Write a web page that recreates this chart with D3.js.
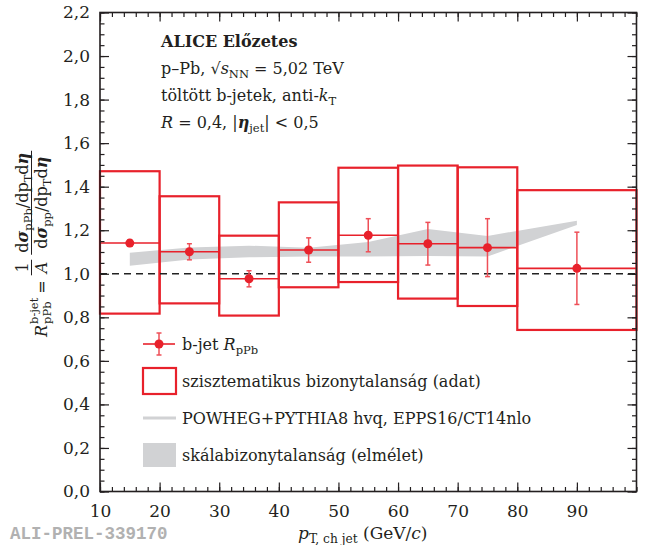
<!DOCTYPE html>
<html>
<head>
<meta charset="utf-8">
<script src="https://cdn.jsdelivr.net/npm/d3@7"></script>
<style>
  body { margin: 0; background: #fff; }
  text { font-family: "DejaVu Serif", serif; fill: #231f20; }
</style>
</head>
<body>
<div id="chart"></div>
<script>
// data
var binLo = [10, 20, 30, 40, 50, 60, 70, 80];
var binHi = [20, 30, 40, 50, 60, 70, 80, 100];
var ptX = [15, 25, 35, 45, 55, 65, 75, 90];
var rpPb = [1.141, 1.101, 0.977, 1.109, 1.177, 1.138, 1.120, 1.025];
var statErr = [0.015, 0.037, 0.037, 0.056, 0.076, 0.098, 0.133, 0.166];
var sysHi = [1.471, 1.356, 1.175, 1.328, 1.487, 1.497, 1.489, 1.384];
var sysLo = [0.817, 0.864, 0.808, 0.938, 0.962, 0.886, 0.852, 0.742];

// POWHEG scale band
var bandX = [15, 25, 35, 45, 55, 65, 75, 90];
var bandHi = [1.097, 1.121, 1.129, 1.119, 1.146, 1.206, 1.174, 1.243];
var bandLo = [1.037, 1.066, 1.076, 1.079, 1.079, 1.082, 1.079, 1.224];

var xTicks = [10, 20, 30, 40, 50, 60, 70, 80, 90];
var yTicks = [0, 0.2, 0.4, 0.6, 0.8, 1.0, 1.2, 1.4, 1.6, 1.8, 2.0, 2.2];

var red = "#e8212b", red2 = "#ee4f57", grey = "#d1d2d4";

var W = 653, H = 545;
var margin = {top: 12.5, right: 16.5, bottom: 53.5, left: 100};
var width = W - margin.left - margin.right,
    height = H - margin.top - margin.bottom;

var svg = d3.select("#chart").append("svg")
    .attr("width", W).attr("height", H);

var g = svg.append("g")
    .attr("transform", `translate(${margin.left}, ${margin.top})`);

var x = d3.scaleLinear().domain([10, 100]).range([0, width]);
var y = d3.scaleLinear().domain([0, 2.2]).range([height, 0]);

var comma = d => d3.format(".1f")(d).replace(".", ",");

// theory band
var area = d3.area()
    .x((d, i) => x(bandX[i]))
    .y0((d, i) => y(bandLo[i]))
    .y1((d, i) => y(bandHi[i]));
g.append("path")
    .datum(bandX)
    .attr("d", area)
    .attr("fill", grey);

// systematic boxes
g.selectAll(".sys")
    .data(ptX)
    .enter().append("rect")
    .attr("class", "sys")
    .attr("x", (d, i) => x(binLo[i]))
    .attr("width", (d, i) => x(binHi[i]) - x(binLo[i]))
    .attr("y", (d, i) => y(sysHi[i]))
    .attr("height", (d, i) => y(sysLo[i]) - y(sysHi[i]))
    .attr("fill", "none")
    .attr("stroke", red)
    .attr("stroke-width", 2.2);

// unity line
g.append("line")
    .attr("x1", x(10)).attr("x2", x(100))
    .attr("y1", y(1)).attr("y2", y(1))
    .attr("stroke", "#222")
    .attr("stroke-width", 1.5)
    .attr("stroke-dasharray", "7,5");

// bin-width lines
g.selectAll(".xerr")
    .data(ptX)
    .enter().append("line")
    .attr("x1", (d, i) => x(binLo[i]))
    .attr("x2", (d, i) => x(binHi[i]))
    .attr("y1", (d, i) => y(rpPb[i]))
    .attr("y2", (d, i) => y(rpPb[i]))
    .attr("stroke", red)
    .attr("stroke-width", 1.6);

// stat errors
var eb = g.selectAll(".stat").data(ptX).enter().append("g");
eb.append("line")
    .attr("x1", d => x(d)).attr("x2", d => x(d))
    .attr("y1", (d, i) => y(rpPb[i] + statErr[i]))
    .attr("y2", (d, i) => y(rpPb[i] - statErr[i]))
    .attr("stroke", red2).attr("stroke-width", 1.5);
[1, -1].forEach(s => {
    eb.append("line")
        .attr("x1", d => x(d) - 2.5).attr("x2", d => x(d) + 2.5)
        .attr("y1", (d, i) => y(rpPb[i] + s * statErr[i]))
        .attr("y2", (d, i) => y(rpPb[i] + s * statErr[i]))
        .attr("stroke", red2).attr("stroke-width", 1.5);
});

g.selectAll(".pt")
    .data(ptX)
    .enter().append("circle")
    .attr("cx", d => x(d))
    .attr("cy", (d, i) => y(rpPb[i]))
    .attr("r", 4.5)
    .attr("fill", red);

// axes, ticks inward on all four sides
function minors(lo, hi, step) {
    return d3.range(Math.round((hi - lo) / step) + 1).map(k => lo + k * step);
}
var xMinor = minors(10, 100, 2), yMinor = minors(0, 2.2, 0.05);

g.append("g").attr("transform", `translate(0, ${height})`)
    .call(d3.axisBottom(x).tickValues(xTicks).tickSize(-9).tickSizeOuter(0)
        .tickPadding(13).tickFormat(d3.format("d")));
g.append("g").attr("transform", `translate(0, ${height})`)
    .call(d3.axisBottom(x).tickValues(xMinor).tickSize(-4.5).tickSizeOuter(0).tickFormat(""));
g.append("g")
    .call(d3.axisTop(x).tickValues(xTicks).tickSize(-9).tickSizeOuter(0).tickFormat(""));
g.append("g")
    .call(d3.axisTop(x).tickValues(xMinor).tickSize(-4.5).tickSizeOuter(0).tickFormat(""));

g.append("g")
    .call(d3.axisLeft(y).tickValues(yTicks).tickSize(-9).tickSizeOuter(0)
        .tickPadding(10).tickFormat(comma));
g.append("g")
    .call(d3.axisLeft(y).tickValues(yMinor).tickSize(-4.5).tickSizeOuter(0).tickFormat(""));
g.append("g").attr("transform", `translate(${width}, 0)`)
    .call(d3.axisRight(y).tickValues(yTicks).tickSize(-9).tickSizeOuter(0).tickFormat(""));
g.append("g").attr("transform", `translate(${width}, 0)`)
    .call(d3.axisRight(y).tickValues(yMinor).tickSize(-4.5).tickSizeOuter(0).tickFormat(""));

g.selectAll(".domain").remove();
g.selectAll(".tick line").attr("stroke", "#231f20").attr("stroke-width", 1.2);
g.selectAll(".tick text")
    .attr("font-size", 17).attr("fill", "#231f20");

g.append("rect")
    .attr("width", width).attr("height", height)
    .attr("fill", "none").attr("stroke", "#231f20").attr("stroke-width", 1.6);

// rich text helper
function rich(sel, parts) {
    var shift = 0;
    parts.forEach(p => {
        var ts = sel.append("tspan").text(p.t);
        var target = p.sub ? 4 : p.sup ? -7 : 0;
        ts.attr("dy", target - shift);
        shift = target;
        if (p.sub || p.sup) ts.attr("font-size", "0.72em");
        if (p.it) ts.attr("font-style", "italic");
        if (p.b) ts.attr("font-weight", "bold");
    });
    return sel;
}

// info block
var info = svg.append("g").attr("font-size", 16);
info.append("text").attr("x", 161).attr("y", 47)
    .attr("font-weight", "bold").text("ALICE Előzetes");
rich(info.append("text").attr("x", 161).attr("y", 74), [
    {t: "p–Pb, √"}, {t: "s", it: 1}, {t: "NN", sub: 1}, {t: " = 5,02 TeV"}]);
rich(info.append("text").attr("x", 161).attr("y", 101), [
    {t: "töltött b-jetek, anti-"}, {t: "k", it: 1}, {t: "T", sub: 1}]);
rich(info.append("text").attr("x", 161).attr("y", 128), [
    {t: "R", it: 1}, {t: " = 0,4, |"}, {t: "η", it: 1, b: 1}, {t: "jet", sub: 1}, {t: "| < 0,5"}]);

// legend
var lg = svg.append("g").attr("font-size", 16);
var rows = [344, 381, 418, 455];
lg.append("line").attr("x1", 143).attr("x2", 175).attr("y1", rows[0]).attr("y2", rows[0])
    .attr("stroke", red).attr("stroke-width", 1.6);
lg.append("line").attr("x1", 159).attr("x2", 159).attr("y1", rows[0] - 11).attr("y2", rows[0] + 11)
    .attr("stroke", red2).attr("stroke-width", 1.5);
[-11, 11].forEach(o => lg.append("line").attr("x1", 156.5).attr("x2", 161.5)
    .attr("y1", rows[0] + o).attr("y2", rows[0] + o).attr("stroke", red2).attr("stroke-width", 1.5));
lg.append("circle").attr("cx", 159).attr("cy", rows[0]).attr("r", 4.5).attr("fill", red);
lg.append("rect").attr("x", 143).attr("y", rows[1] - 13).attr("width", 33).attr("height", 26)
    .attr("fill", "none").attr("stroke", red).attr("stroke-width", 2.2);
lg.append("line").attr("x1", 143).attr("x2", 176).attr("y1", rows[2]).attr("y2", rows[2])
    .attr("stroke", grey).attr("stroke-width", 3);
lg.append("rect").attr("x", 143).attr("y", rows[3] - 12).attr("width", 33).attr("height", 24)
    .attr("fill", grey);

rich(lg.append("text").attr("x", 182).attr("y", rows[0] + 6), [
    {t: "b-jet "}, {t: "R", it: 1}, {t: "pPb", sub: 1}]);
lg.append("text").attr("x", 182).attr("y", rows[1] + 6).text("szisztematikus bizonytalanság (adat)");
lg.append("text").attr("x", 182).attr("y", rows[2] + 6).text("POWHEG+PYTHIA8 hvq, EPPS16/CT14nlo");
lg.append("text").attr("x", 182).attr("y", rows[3] + 6).text("skálabizonytalanság (elmélet)");

// x title
rich(svg.append("text").attr("x", 298).attr("y", 539).attr("font-size", 17), [
    {t: "p", it: 1}, {t: "T, ch jet", sub: 1}, {t: " (GeV/"}, {t: "c", it: 1}, {t: ")"}]);

svg.append("text").attr("x", 10).attr("y", 539)
    .style("font-family", "'Liberation Mono', 'DejaVu Sans Mono', monospace")
    .attr("font-weight", "bold")
    .attr("font-size", 17.5).style("fill", "#b1b1b1")
    .text("ALI-PREL-339170");

// y title, built rotated
var yl = svg.append("g").attr("transform", "translate(47, 337) rotate(-90)")
    .attr("font-size", 16);
var tR = yl.append("text").attr("x", 0).attr("y", 0).attr("font-style", "italic").text("R");
var wR = tR.node().getComputedTextLength();
var tSup = yl.append("text").attr("x", wR + 1).attr("y", -9).attr("font-size", 11.5).text("b-jet");
var tSub = yl.append("text").attr("x", wR + 1).attr("y", 4).attr("font-size", 11.5).text("pPb");
var x2 = wR + 1 + Math.max(tSup.node().getComputedTextLength(), tSub.node().getComputedTextLength()) + 4;
var tEq = yl.append("text").attr("x", x2).attr("y", 0).text("=");
var x3 = x2 + tEq.node().getComputedTextLength() + 5;

function frac(x0, num, den) {
    var tn = rich(yl.append("text").attr("y", -19).attr("text-anchor", "middle"), num);
    var td = rich(yl.append("text").attr("y", 0).attr("text-anchor", "middle"), den);
    var w = Math.max(tn.node().getComputedTextLength(), td.node().getComputedTextLength()) + 4;
    tn.attr("x", x0 + w / 2);
    td.attr("x", x0 + w / 2);
    yl.append("line").attr("x1", x0).attr("x2", x0 + w).attr("y1", -15.5).attr("y2", -15.5)
        .attr("stroke", "#231f20").attr("stroke-width", 1);
    return x0 + w;
}
var x4 = frac(x3, [{t: "1"}], [{t: "A", it: 1}]) + 5;
frac(x4,
    [{t: "d"}, {t: "σ", it: 1, b: 1}, {t: "pPb", sub: 1}, {t: "/dp"}, {t: "T", sub: 1}, {t: "d"}, {t: "η", it: 1, b: 1}],
    [{t: "d"}, {t: "σ", it: 1, b: 1}, {t: "pp", sub: 1}, {t: "/dp"}, {t: "T", sub: 1}, {t: "d"}, {t: "η", it: 1, b: 1}]);
</script>
</body>
</html>
